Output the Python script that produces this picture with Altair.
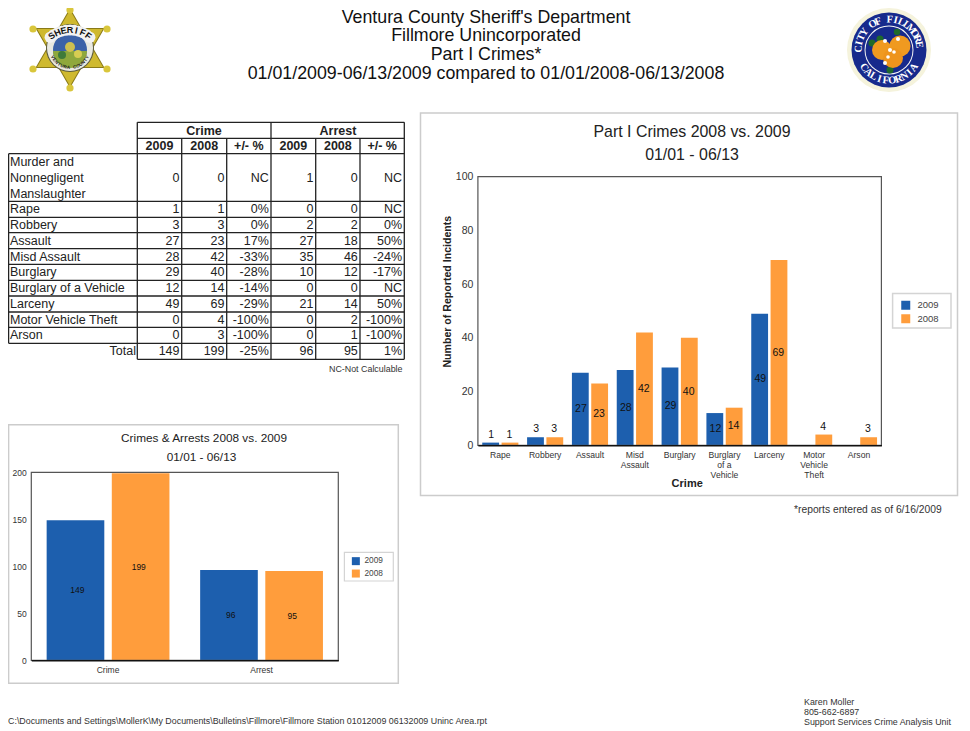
import math
import altair as alt
import pandas as pd

FONT = "Liberation Sans"
BLUE = "#1d5fae"
ORANGE = "#ff9d3c"
INK = "#222222"

# ---------- data ----------
row_labels = ["Murder and\nNonnegligent\nManslaughter", "Rape", "Robbery", "Assault", "Misd  Assault",
              "Burglary", "Burglary of a Vehicle", "Larceny", "Motor Vehicle Theft", "Arson", "Total"]
crime_2009 = ["0", "1", "3", "27", "28", "29", "12", "49", "0", "0", "149"]
crime_2008 = ["0", "1", "3", "23", "42", "40", "14", "69", "4", "3", "199"]
crime_pct = ["NC", "0%", "0%", "17%", "-33%", "-28%", "-14%", "-29%", "-100%", "-100%", "-25%"]
arrest_2009 = ["1", "0", "2", "27", "35", "10", "0", "21", "0", "0", "96"]
arrest_2008 = ["0", "0", "2", "18", "46", "12", "0", "14", "2", "1", "95"]
arrest_pct = ["NC", "NC", "0%", "50%", "-24%", "-17%", "NC", "50%", "-100%", "-100%", "1%"]

part1_crimes = ["Rape", "Robbery", "Assault", "Misd|Assault", "Burglary", "Burglary|of a|Vehicle",
                "Larceny", "Motor|Vehicle|Theft", "Arson"]
part1_2009 = [1, 3, 27, 28, 29, 12, 49, 0, 0]
part1_2008 = [1, 3, 23, 42, 40, 14, 69, 4, 3]
totals_groups = ["Crime", "Arrest"]
totals_2009 = [149, 96]
totals_2008 = [199, 95]
years = ["2009", "2008"]

header_lines = ["Ventura County Sheriff's Department", "Fillmore Unincorporated", "Part I Crimes*",
                "01/01/2009-06/13/2009 compared to 01/01/2008-06/13/2008"]
contact_lines = ["Karen Moller", "805-662-6897", "Support Services Crime Analysis Unit"]
file_path = r"C:\Documents and Settings\MollerK\My Documents\Bulletins\Fillmore\Fillmore Station 01012009 06132009 Uninc Area.rpt"

# ---------- helpers (page pixels -> chart pixels) ----------
OFF = 8
W, H = 954, 722
ONE = pd.DataFrame({"k": [0]})


def px(v):
    return v - OFF


def txt(s, x, y, size, align="left", weight="normal", color=INK, font=FONT, **kw):
    return alt.Chart(pd.DataFrame({"t": [s]})).mark_text(
        align=align, baseline="middle", fontSize=size, fontWeight=weight, color=color, font=font, **kw
    ).encode(x=alt.value(px(x)), y=alt.value(px(y)), text="t:N")


def frame(x0, y0, x1, y1, stroke, width=1.0):
    return alt.Chart(ONE).mark_rect(stroke=stroke, strokeWidth=width, fillOpacity=0).encode(
        x=alt.value(px(x0)), x2=alt.value(px(x1)), y=alt.value(px(y0)), y2=alt.value(px(y1)))


def shapes(rows, shape="circle"):
    df = pd.DataFrame(rows, columns=["x", "y", "r", "c"])
    df["x"] = df["x"] - OFF
    df["y"] = df["y"] - OFF
    df["s"] = (2 * df["r"]) ** 2
    return alt.Chart(df).mark_point(filled=True, opacity=1, shape=shape, strokeWidth=0).encode(
        x=alt.X("x:Q", scale=None, axis=None), y=alt.Y("y:Q", scale=None, axis=None),
        size=alt.Size("s:Q", scale=None, legend=None), color=alt.Color("c:N", scale=None, legend=None))


def arc_text(s, cx, cy, r, a0, a1, size, color, font=FONT, bottom=False):
    rows = []
    n = len(s)
    for i, ch in enumerate(s):
        a = math.radians(a0 + (a1 - a0) * i / (n - 1))
        if bottom:
            rows.append((ch, cx + r * math.sin(a) - OFF, cy + r * math.cos(a) - OFF, (-math.degrees(a)) % 360))
        else:
            rows.append((ch, cx + r * math.sin(a) - OFF, cy - r * math.cos(a) - OFF, math.degrees(a) % 360))
    df = pd.DataFrame(rows, columns=["t", "x", "y", "a"])
    return alt.Chart(df).mark_text(baseline="middle", align="center", fontSize=size, fontWeight="bold",
                                   color=color, font=font).encode(
        x=alt.X("x:Q", scale=None, axis=None), y=alt.Y("y:Q", scale=None, axis=None),
        angle=alt.Angle("a:Q", scale=None), text="t:N")


# ---------- grouped bar panel ----------
def bar_panel(groups, v09, v08, x0, x1, y_top, y_bot, dom_max, ticks, step_pad, off_pad, label_size, tick_size,
              axis_size, legend_opts, title=None, title_xy=None, threshold=0, line_height=10):
    df = pd.DataFrame({"g": groups * 2, "yr": [years[0]] * len(groups) + [years[1]] * len(groups),
                       "v": list(v09) + list(v08)})
    df["mid"] = df["v"] / 2
    x_scale = alt.Scale(domain=groups, range=[px(x0), px(x1)], paddingInner=step_pad, paddingOuter=step_pad / 2)
    y_scale = alt.Scale(domain=[0, dom_max], range=[px(y_bot), px(y_top)], nice=False)
    off = alt.XOffset("yr:N", scale=alt.Scale(domain=years, paddingInner=off_pad), sort=years)
    ax = dict(title=title, orient="bottom", labelExpr="split(datum.label,'|')", labelAngle=0, ticks=False,
              labelFont=FONT, labelFontSize=axis_size, labelColor="#333333", labelPadding=5,
              labelLineHeight=line_height, labelBaseline="top", domainColor="#111111", domainWidth=1.6, zindex=2,
              grid=False, offset=-(H - px(y_bot)), labelOverlap=False, labelLimit=200)
    if title:
        ax.update(titleFont=FONT, titleFontSize=11, titleFontWeight="bold", titleColor=INK,
                  titleX=px(title_xy[0]), titleY=title_xy[1], titleBaseline="middle", titleAlign="center")
    bars = alt.Chart(df).mark_bar(opacity=1).encode(
        x=alt.X("g:N", scale=x_scale, axis=alt.Axis(**ax), sort=groups), xOffset=off,
        y=alt.Y("v:Q", scale=y_scale, axis=alt.Axis(
            title=None, orient="left", values=ticks, ticks=False, domain=False, grid=False, labelFont=FONT,
            labelFontSize=tick_size, labelColor="#333333", labelPadding=5, offset=-px(x0), zindex=2)),
        color=alt.Color("yr:N", scale=alt.Scale(domain=years, range=[BLUE, ORANGE]), sort=years,
                        legend=alt.Legend(**legend_opts)),
    )
    shown = df[df["v"] > 0]
    inside = alt.Chart(shown[shown["v"] >= threshold]).mark_text(
        baseline="middle", fontSize=label_size, color="#111111", font=FONT).encode(
        x=alt.X("g:N", scale=x_scale, axis=None, sort=groups), xOffset=off,
        y=alt.Y("mid:Q", scale=y_scale, axis=None), text="v:Q")
    parts = [bars, inside]
    small = shown[shown["v"] < threshold]
    if len(small):
        parts.append(alt.Chart(small).mark_text(
            baseline="bottom", dy=-3, fontSize=label_size, color="#111111", font=FONT).encode(
            x=alt.X("g:N", scale=x_scale, axis=None, sort=groups), xOffset=off,
            y=alt.Y("v:Q", scale=y_scale, axis=None), text="v:Q"))
    return parts


def legend_opts(x, y, sym, size, row_pad, offset):
    return dict(orient="none", legendX=px(x), legendY=px(y), title=None, symbolType="square", symbolSize=sym,
                padding=0, labelFont=FONT, labelFontSize=size, labelColor="#444444", symbolStrokeWidth=0,
                rowPadding=row_pad, labelOffset=offset)


layers = []

# ---------- heading ----------
for line, y in zip(header_lines, [17.5, 36, 54.8, 74]):
    layers.append(txt(line, 486, y, 17.8, align="center", color="#111111"))

# ---------- sheriff's badge ----------
bx, by = 70, 48
star = "M" + " L".join(
    f"{(1 if k % 2 == 0 else 0.577) * math.cos(math.radians(-90 + 30 * k)):.3f},"
    f"{(1 if k % 2 == 0 else 0.577) * math.sin(math.radians(-90 + 30 * k)):.3f}" for k in range(12)) + " Z"
layers.append(shapes([(bx, by, 40, "#8a7a18")], shape=star))
layers.append(shapes([(bx, by, 38, "#cfb92f")], shape=star))
balls = [(bx, 10), (bx, 88), (33, 29), (107, 29), (33, 69), (107, 69)]
layers.append(shapes([(a, b, 3.6, "#d9c63c") for a, b in balls]))
layers.append(shapes([(bx, by, 24, "#5a5a40"), (bx, by, 23, "#e9e9e0"), (bx, by + 2, 17, "#3c62a8")]))
layers.append(shapes([(bx, by + 3, 17, "#8fa83c")], shape="M-1,0 A1,1 0 0 0 1,0 Z"))
layers.append(shapes([(bx, by - 1, 5, "#cfc050"), (bx + 8, by + 6, 4, "#d8cd52"), (bx - 8, by + 7, 4, "#3f7a3a")]))
ribbon = [(bx + 31 * math.sin(math.radians(d)), by + 13 - 31 * math.cos(math.radians(d)), 5.5, "#f2f2f2")
          for d in range(-40, 41, 8)]
layers.append(shapes(ribbon))
layers.append(arc_text("SHERIFF", bx, by + 13, 31, -36, 36, 9, "#111111"))
layers.append(arc_text("VENTURA COUNTY", bx, by, 20, -62, 62, 4.5, "#222222", bottom=True))

# ---------- city seal ----------
sx, sy = 889, 50
layers.append(shapes([(sx, sy, 42, "#f5f3dc"), (sx, sy, 37.5, "#172a8c"), (sx, sy, 24.5, "#f4f4f4"),
                      (sx, sy, 23.5, "#172a8c")]))
layers.append(shapes([(872, 43, 3.5, "#1f6a2a"), (880, 39, 3.5, "#1f6a2a"), (897, 32, 3.2, "#1f6a2a"),
                      (890, 70, 3.5, "#1f6a2a"), (882, 50, 10, "#f09a20"), (900, 46, 10.5, "#f09a20"),
                      (893, 58, 10, "#ee941c"), (885, 41, 2, "#ffffff"), (898, 39, 2, "#ffffff"),
                      (890, 50, 2, "#ffffff"), (894, 52, 1.8, "#ffffff"), (885, 63, 2, "#ffffff"),
                      (888, 57, 1.8, "#ffffff")]))
serif = "Liberation Serif"
layers.append(arc_text("CITY OF FILLMORE", sx, sy, 30.5, -88, 80, 10.5, "#ffffff", font=serif))
layers.append(arc_text("CALIFORNIA", sx, sy, 30.5, -55, 55, 10.5, "#ffffff", font=serif, bottom=True))

# ---------- table ----------
col_x = [137.3, 181.7, 226.7, 271, 315.7, 360, 404.3]
row_y = [153.7, 201.3, 217.3, 232.7, 248.7, 264.3, 280.3, 296, 312, 327.3, 343.3, 359.3]
LEFT = 8.6
rules = []
for y in row_y[:-1]:
    rules.append((LEFT, 404.3, y, y))
rules.append((137.3, 404.3, 359.3, 359.3))
rules.append((137.3, 404.3, 122.3, 122.3))
rules.append((137.3, 404.3, 138.3, 138.3))
rules.append((LEFT, LEFT, 153.7, 343.3))
for i, x in enumerate(col_x):
    rules.append((x, x, 122.3 if i in (0, 3, 6) else 138.3, 359.3))
rule_df = pd.DataFrame(rules, columns=["a", "b", "c", "d"]) - OFF
layers.append(alt.Chart(rule_df).mark_rule(color="#222222", strokeWidth=1.3).encode(
    x=alt.X("a:Q", scale=None, axis=None), x2="b:Q", y=alt.Y("c:Q", scale=None, axis=None), y2="d:Q"))

row_idx = list(range(len(row_labels)))
row_centers = [px((row_y[i] + row_y[i + 1]) / 2) for i in row_idx]
row_scale = alt.Scale(domain=row_idx, range=row_centers)
columns = [crime_2009, crime_2008, crime_pct, arrest_2009, arrest_2008, arrest_pct]
cells = pd.DataFrame([{"col": c, "row": r, "t": columns[c][r]} for c in range(6) for r in row_idx])
layers.append(alt.Chart(cells).mark_text(align="right", baseline="middle", fontSize=12.5, color=INK, font=FONT).encode(
    x=alt.X("col:Q", scale=alt.Scale(domain=list(range(6)), range=[px(v - 2.2) for v in col_x[1:]]), axis=None),
    y=alt.Y("row:Q", scale=row_scale, axis=None), text="t:N"))
labels = pd.DataFrame({"row": row_idx[:-1], "t": row_labels[:-1]})
layers.append(alt.Chart(labels[labels["row"] > 0]).mark_text(
    align="left", baseline="middle", fontSize=12.5, color=INK, font=FONT).encode(
    x=alt.value(px(10)), y=alt.Y("row:Q", scale=row_scale, axis=None), text="t:N"))
layers.append(alt.Chart(labels[labels["row"] == 0]).mark_text(
    align="left", baseline="middle", fontSize=12.5, color=INK, font=FONT, lineBreak="\n", lineHeight=16, dy=-16).encode(
    x=alt.value(px(10)), y=alt.Y("row:Q", scale=row_scale, axis=None), text="t:N"))
layers.append(txt(row_labels[-1], 136, (row_y[-2] + row_y[-1]) / 2, 12.5, align="right"))
layers.append(txt("Crime", 204, 130.5, 12.5, align="center", weight="bold"))
layers.append(txt("Arrest", 338, 130.5, 12.5, align="center", weight="bold"))
for i, h in enumerate(["2009", "2008", "+/- %", "2009", "2008", "+/- %"]):
    layers.append(txt(h, (col_x[i] + col_x[i + 1]) / 2, 146, 12.5, align="center", weight="bold"))
layers.append(txt("NC-Not Calculable", 402.5, 368.5, 8.9, align="right", color="#333333"))

# ---------- upper right chart ----------
layers.append(frame(420.5, 113, 957.5, 495.5, "#cccccc", 1.5))
layers.append(txt("Part I Crimes 2008 vs. 2009", 692, 132, 15.9, align="center"))
layers.append(txt("01/01 - 06/13", 692, 155, 15.9, align="center"))
layers.append(frame(892.6, 293.5, 951, 328, "#d4d4d4", 1.5))
layers.extend(bar_panel(part1_crimes, part1_2009, part1_2008, 477.9, 881.4, 176.7, 445.3, 100,
                        [0, 20, 40, 60, 80, 100], 0.194, 0.13, 10.5, 10.5, 8.6,
                        legend_opts(901, 300.5, 81, 9.5, 2.5, 7), title="Crime", title_xy=(686.7, 38), threshold=12))
layers.append(frame(477.9, 176.7, 881.4, 445.3, "#555555", 1.2))
layers.append(txt("Number of Reported Incidents", 447.5, 291.7, 10.6, align="center", weight="bold", angle=270))
layers.append(txt("*reports entered as of 6/16/2009", 794, 510, 10.3, color="#333333"))

# ---------- lower left chart ----------
layers.append(frame(8.6, 424.7, 398.3, 683.3, "#cccccc", 1.5))
layers.append(txt("Crimes & Arrests 2008 vs. 2009", 204, 438, 11.8, align="center"))
layers.append(txt("01/01 - 06/13", 201.5, 457, 11.8, align="center"))
layers.append(frame(344.4, 552.3, 393.3, 581, "#d4d4d4", 1.2))
layers.extend(bar_panel(totals_groups, totals_2009, totals_2008, 31.3, 338.3, 472.3, 660.3, 200,
                        [0, 50, 100, 150, 200], 0.2, 0.115, 8.5, 8.5, 8.5,
                        legend_opts(351.7, 557, 64, 8.3, 2.4, 4.5)))
layers.append(frame(31.3, 472.3, 338.3, 660.3, "#555555", 1.2))

# ---------- footer ----------
layers.append(txt(file_path, 8, 721, 8.9, color="#333333"))
for line, y in zip(contact_lines, [702, 712, 722]):
    layers.append(txt(line, 804, y, 8.9, color="#333333"))

chart = alt.layer(*layers).resolve_scale(x="independent", y="independent", color="independent", size="independent",
                                         angle="independent", xOffset="independent").properties(
    width=W, height=H, padding=0,
    autosize=alt.AutoSizeParams(type="none", contains="padding"), background="white"
).configure_view(strokeWidth=0)

chart.save("out.html", embed_options={"renderer": "svg", "actions": False})
